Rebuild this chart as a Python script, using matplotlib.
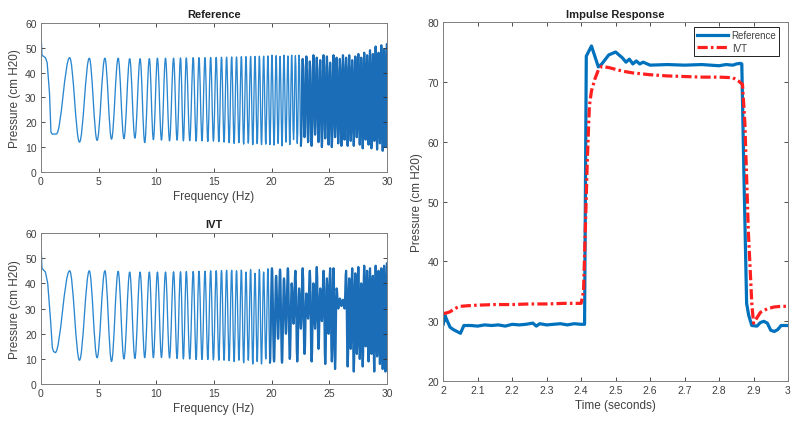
import matplotlib
matplotlib.use("Agg")
import matplotlib.pyplot as plt
from matplotlib.path import Path
from matplotlib.patches import PathPatch
import numpy as np

plt.rcParams['font.family'] = ['Liberation Sans', 'DejaVu Sans']

# sweep data: x position of each peak, peak and trough values (troughs sit between peaks)
peak_x = [2.50, 4.20, 5.55, 6.70, 7.70, 8.60, 9.40, 10.10, 10.80, 11.50, 12.10, 12.60, 13.20, 13.70,
          14.22, 14.71, 15.19, 15.65, 16.09, 16.53, 16.95, 17.37, 17.77, 18.17, 18.55, 18.93, 19.30, 19.67,
          20.02, 20.38, 20.72, 21.06, 21.40, 21.73, 22.05, 22.37,
          22.68, 23.00, 23.30, 23.61, 23.90, 24.20, 24.49, 24.78, 25.06, 25.35, 25.62, 25.90, 26.17, 26.44,
          26.71, 26.97, 27.24, 27.50, 27.75, 28.01, 28.26, 28.51, 28.76, 29.00, 29.25, 29.49, 29.73, 29.97]

ref_start_x = [0, 0.04, 0.1, 0.4, 0.55, 0.75, 0.88, 1.0, 1.35]
ref_start_y = [30, 53.5, 47, 46, 44, 32, 16, 15.2, 15.3]
ref_peaks = [46.0, 45.8, 45.8, 45.8, 45.6, 45.6, 45.6, 45.8, 45.8, 45.8, 45.9, 45.9, 46.0, 46.0,
             46.0, 46.1, 46.1, 46.2, 46.2, 46.3, 46.3, 46.4, 46.4, 46.5, 46.5, 46.6, 46.6, 46.7,
             47.0, 46.8, 46.5, 47.0, 46.7, 47.0, 46.8, 47.0,
             45.5, 46.5, 44.5, 47.0, 46.0, 45.0, 47.0, 46.5, 44.0, 47.0, 46.0, 45.5, 47.0, 46.0,
             47.0, 45.0, 46.5, 47.5, 46.0, 48.0, 47.0, 49.0, 47.5, 50.5, 48.0, 51.0, 49.5, 51.5]
ref_troughs = [12.0, 12.7, 13.2, 13.4, 13.6, 11.8, 13.0, 12.8, 12.5, 12.8, 12.5, 12.6, 12.4, 12.5,
               12.3, 12.4, 12.2, 12.0, 11.8, 11.5, 11.8, 11.2, 11.6, 11.0, 11.4, 11.0, 11.2, 11.0,
               10.8, 11.5, 10.5, 12.0, 11.0, 13.0, 11.5, 10.5,
               14.0, 12.0, 10.5, 15.0, 12.0, 10.0, 13.5, 11.0, 10.0, 14.0, 11.5, 10.5, 13.0, 10.5,
               12.5, 10.5, 14.0, 11.0, 9.5, 13.0, 11.0, 9.5, 12.5, 9.0, 11.5, 8.5, 10.0]

ivt_start_x = [0, 0.04, 0.1, 0.4, 0.6, 0.85, 1.0, 1.1, 1.25]
ivt_start_y = [42, 53, 46, 44.5, 40, 25, 14.5, 13, 12.5]
ivt_peaks = [45.0, 45.0, 45.0, 44.8, 44.5, 44.5, 44.5, 44.5, 44.5, 44.6, 44.6, 44.7, 44.7, 44.8,
             44.8, 45.0, 45.0, 45.1, 45.2, 45.2, 45.0, 45.3, 44.5, 45.5, 44.0, 45.5, 44.5, 45.8,
             46.0, 43.0, 45.5, 42.0, 46.0, 40.0, 45.0, 38.0,
             46.0, 36.0, 45.0, 40.0, 46.5, 38.0, 45.0, 42.0, 46.0, 46.0, 38.0, 34.0, 33.5, 45.0,
             42.0, 46.0, 44.0, 46.5, 40.0, 47.0, 45.0, 46.0, 43.0, 47.0, 45.0, 46.0, 47.0, 48.0]
ivt_troughs = [9.5, 10.5, 9.0, 10.0, 10.2, 10.5, 10.5, 10.6, 10.4, 10.2, 10.0, 10.0, 9.8, 9.8,
               9.8, 9.6, 9.5, 9.5, 9.3, 9.0, 9.5, 8.5, 9.5, 8.0, 9.0, 8.0, 10.0, 8.5,
               9.0, 18.0, 8.5, 20.0, 10.0, 24.0, 9.0, 22.0,
               12.0, 26.0, 9.0, 22.0, 14.0, 25.0, 8.0, 20.0, 9.0, 6.0, 30.0, 31.0, 30.0, 7.0,
               14.0, 5.0, 12.0, 10.0, 7.0, 15.0, 9.0, 12.0, 5.0, 11.0, 8.0, 6.0, 5.0]

# impulse response
t_ref = [2.000, 2.005, 2.010, 2.020, 2.030, 2.040, 2.050, 2.060, 2.080, 2.100,
         2.120, 2.140, 2.160, 2.180, 2.200, 2.220, 2.240, 2.260, 2.270, 2.280,
         2.300, 2.320, 2.340, 2.360, 2.380, 2.400, 2.410, 2.415, 2.430, 2.450,
         2.460, 2.480, 2.500, 2.520, 2.530, 2.540, 2.550, 2.560, 2.570, 2.580,
         2.600, 2.650, 2.700, 2.750, 2.800, 2.820, 2.840, 2.850, 2.862, 2.866,
         2.872, 2.880, 2.886, 2.895, 2.910, 2.920, 2.930, 2.940, 2.950, 2.960,
         2.970, 2.980, 3.000]
p_ref = [29.5, 31.0, 30.3, 29.0, 28.6, 28.3, 28.0, 29.3, 29.3, 29.2,
         29.4, 29.3, 29.4, 29.2, 29.5, 29.4, 29.5, 29.7, 29.2, 29.6,
         29.4, 29.5, 29.6, 29.4, 29.6, 29.5, 29.5, 74.3, 76.0, 72.5,
         73.0, 74.5, 75.0, 74.0, 73.3, 73.8, 73.0, 73.5, 73.0, 73.3,
         72.8, 72.9, 72.8, 72.9, 72.7, 72.9, 72.8, 73.0, 73.1, 73.0,
         55.0, 33.0, 31.0, 29.3, 29.2, 29.8, 30.0, 29.7, 28.5, 28.3,
         28.6, 29.3, 29.3]
t_ivt = [2.000, 2.010, 2.020, 2.030, 2.040, 2.050, 2.070, 2.100, 2.150, 2.200,
         2.250, 2.300, 2.350, 2.400, 2.407, 2.412, 2.418, 2.424, 2.430, 2.440,
         2.450, 2.460, 2.480, 2.500, 2.520, 2.550, 2.600, 2.650, 2.700, 2.750,
         2.800, 2.840, 2.855, 2.868, 2.875, 2.885, 2.895, 2.900, 2.910, 2.920,
         2.940, 2.960, 2.980, 3.000]
p_ivt = [31.3, 31.4, 31.6, 32.0, 32.3, 32.5, 32.6, 32.7, 32.8, 32.8,
         32.9, 32.9, 33.0, 33.0, 35.0, 45.0, 57.0, 66.0, 68.5, 70.5,
         72.0, 72.6, 72.4, 72.1, 71.8, 71.5, 71.2, 71.0, 70.9, 70.8,
         70.8, 70.7, 70.2, 69.6, 63.0, 45.0, 33.0, 29.7, 30.6, 31.5,
         32.1, 32.4, 32.5, 32.5]

BLUE = "#0072BD"
LIGHT = "#2a86cf"
DENSE = "#1a6db6"
RED = "#FF1F1F"
TXT = "#404040"


def sweep_paths(start_x, start_y, peaks, troughs, split_peak):
    # straight start, then smooth half-cycles (bezier) through the extrema;
    # returns two paths: sparse part and dense part (from peak number split_peak)
    px = np.array(peak_x)
    tx = (px[:-1] + px[1:]) / 2
    ext = []
    for i in range(len(px)):
        ext.append((px[i], peaks[i], i))
        if i < len(tx):
            ext.append((tx[i], troughs[i], i))
    paths = []
    verts = list(zip(start_x, start_y))
    codes = [Path.MOVETO] + [Path.LINETO] * (len(start_x) - 1)
    x0, y0 = verts[-1]
    for x, y, i in ext:
        if i == split_peak and len(paths) == 0:
            paths.append(Path(verts, codes))
            verts, codes = [(x0, y0)], [Path.MOVETO]
        d = 0.36 * (x - x0)
        verts += [(x0 + d, y0), (x - d, y), (x, y)]
        codes += [Path.CURVE4] * 3
        x0, y0 = x, y
    paths.append(Path(verts, codes))
    return paths


def style(ax):
    for s in ax.spines.values():
        s.set_color("#808080")
        s.set_linewidth(0.7)
    ax.tick_params(direction="in", top=True, right=True, length=3, width=0.6,
                   colors="#303030", labelsize=7.5, pad=3)
    for lab in ax.get_xticklabels() + ax.get_yticklabels():
        lab.set_color(TXT)


fig = plt.figure(figsize=(8, 4.27), dpi=100)
ax1 = fig.add_axes([0.051, 0.595, 0.433, 0.349])
ax2 = fig.add_axes([0.051, 0.098, 0.433, 0.354])
ax3 = fig.add_axes([0.554, 0.105, 0.431, 0.841])

for ax, title, sx, sy, pk, tr, split in [
        (ax1, "Reference", ref_start_x, ref_start_y, ref_peaks, ref_troughs, 36),
        (ax2, "IVT", ivt_start_x, ivt_start_y, ivt_peaks, ivt_troughs, 28)]:
    sparse, dense = sweep_paths(sx, sy, pk, tr, split)
    ax.add_patch(PathPatch(sparse, fill=False, edgecolor=LIGHT, lw=0.95,
                           joinstyle="round", capstyle="round"))
    ax.add_patch(PathPatch(dense, fill=False, edgecolor=DENSE, lw=1.6,
                           joinstyle="round", capstyle="round"))
    ax.set_xlim(0, 30)
    ax.set_ylim(0, 60)
    ax.set_xticks(range(0, 31, 5))
    ax.set_yticks(range(0, 61, 10))
    ax.set_title(title, fontsize=8, fontweight="bold", color="#202020", pad=4)
    ax.set_xlabel("Frequency (Hz)", fontsize=8.5, color=TXT, labelpad=3)
    ax.set_ylabel("Pressure (cm H20)", fontsize=8.5, color=TXT, labelpad=3)
    style(ax)

ax3.plot(t_ref, p_ref, color=BLUE, lw=2.3, label="Reference")
ax3.plot(t_ivt, p_ivt, color=RED, lw=2.3, linestyle=(0, (3.2, 1.0, 0.8, 1.0)), label="IVT")
ax3.set_xlim(2, 3)
ax3.set_ylim(20, 80)
ax3.set_xticks(np.arange(2, 3.01, 0.1))
ax3.set_xticklabels(["2", "2.1", "2.2", "2.3", "2.4", "2.5", "2.6", "2.7", "2.8", "2.9", "3"])
ax3.set_yticks(range(20, 81, 10))
ax3.set_title("Impulse Response", fontsize=8, fontweight="bold", color="#202020", pad=4)
ax3.set_xlabel("Time (seconds)", fontsize=8.5, color=TXT, labelpad=3)
ax3.set_ylabel("Pressure (cm H20)", fontsize=8.5, color=TXT, labelpad=3)
style(ax3)
leg = ax3.legend(loc="upper right", bbox_to_anchor=(0.975, 0.985), fontsize=7,
                 fancybox=False, framealpha=1, edgecolor="#202020", handlelength=3.2,
                 borderpad=0.3, labelspacing=0.25, handletextpad=0.4, borderaxespad=0)
leg.get_frame().set_linewidth(0.7)
for t in leg.get_texts():
    t.set_color(TXT)

fig.savefig("out.png", dpi=100)
